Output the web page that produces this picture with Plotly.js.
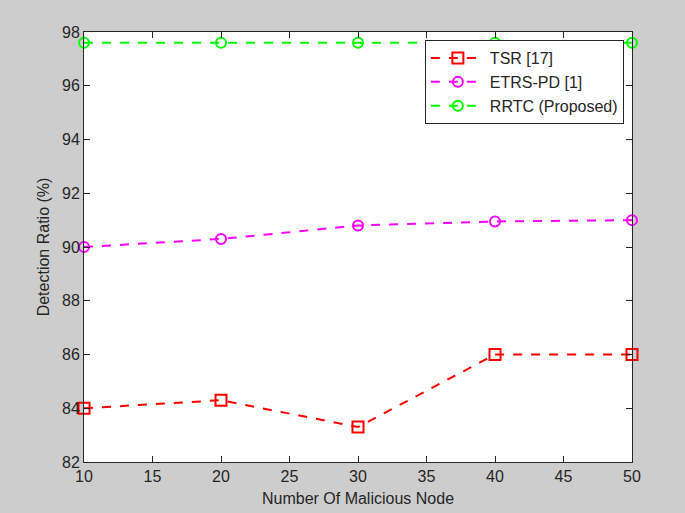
<!DOCTYPE html>
<html><head><meta charset="utf-8">
<script src="https://cdn.plot.ly/plotly-3.0.1.min.js"></script>
<style>html,body{margin:0;padding:0;background:#cdcdcd;}#chart{width:685px;height:513px;}</style>
</head><body><div id="chart"></div>
<script>
const nodes = [10, 20, 30, 40, 50];
const tsr = [84.0, 84.3, 83.3, 86.0, 86.0];
const etrs = [90.0, 90.3, 90.8, 90.95, 91.0];
const rrtc = [97.6, 97.6, 97.6, 97.6, 97.6];
const seriesNames = ['TSR [17]', 'ETRS-PD [1]', 'RRTC (Proposed)'];

const traces = [
  {x: nodes, y: tsr, name: seriesNames[0], mode: 'lines+markers', cliponaxis: false,
   line: {color: '#ff0000', dash: 'dash', width: 2},
   marker: {symbol: 'square-open', size: 11, color: '#ff0000', line: {width: 2}}},
  {x: nodes, y: etrs, name: seriesNames[1], mode: 'lines+markers', cliponaxis: false,
   line: {color: '#ff00ff', dash: 'dash', width: 2},
   marker: {symbol: 'circle-open', size: 10, color: '#ff00ff', line: {width: 2}}},
  {x: nodes, y: rrtc, name: seriesNames[2], mode: 'lines+markers', cliponaxis: false,
   line: {color: '#00ff00', dash: 'dash', width: 2},
   marker: {symbol: 'circle-open', size: 10, color: '#00ff00', line: {width: 2}}}
];

const layout = {
  width: 685, height: 513,
  paper_bgcolor: '#cdcdcd', plot_bgcolor: '#ffffff',
  margin: {l: 84, r: 53, t: 32, b: 51},
  font: {family: 'Liberation Sans, Arial, sans-serif', size: 16, color: '#262626'},
  showlegend: true,
  legend: {x: 0.622, y: 0.981, xanchor: 'left', yanchor: 'top', bgcolor: '#ffffff',
           bordercolor: '#262626', borderwidth: 1, font: {size: 16, color: '#262626'},
           tracegroupgap: 0, itemwidth: 54},
  xaxis: {range: [10, 50], dtick: 5, tick0: 10, ticks: 'inside', ticklen: 6, tickcolor: '#262626',
          mirror: 'ticks', showline: true, linecolor: '#262626', linewidth: 1, showgrid: false, zeroline: false,
          tickfont: {size: 16},
          title: {text: 'Number Of Malicious Node', font: {size: 16}, standoff: 8}},
  yaxis: {range: [82, 98], dtick: 2, tick0: 82, ticks: 'inside', ticklen: 6, tickcolor: '#262626',
          mirror: 'ticks', showline: true, linecolor: '#262626', linewidth: 1, showgrid: false, zeroline: false,
          tickfont: {size: 16},
          title: {text: 'Detection Ratio (%)', font: {size: 16}, standoff: 8}}
};

Plotly.newPlot('chart', traces, layout, {displayModeBar: false, staticPlot: true});
</script></body></html>
